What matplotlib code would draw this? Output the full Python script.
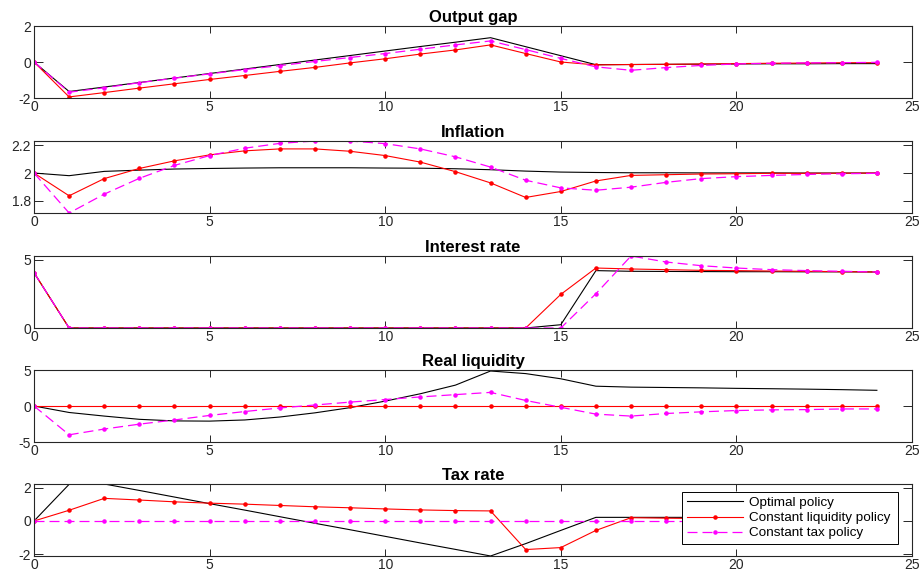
"""Impulse responses under three policy regimes, five stacked panels."""

import matplotlib
matplotlib.use("Agg")
import matplotlib.pyplot as plt

plt.rcParams["font.family"] = ["Liberation Sans", "DejaVu Sans"]

T = list(range(25))

TITLES = ["Output gap", "Inflation", "Interest rate", "Real liquidity", "Tax rate"]
SERIES_NAMES = ["Optimal policy", "Constant liquidity policy", "Constant tax policy"]

gap_opt = [0, -1.64, -1.39, -1.14, -0.89, -0.64, -0.39, -0.14, 0.11, 0.36, 0.61, 0.86,
           1.10, 1.35, 0.85, 0.35, -0.15, -0.14, -0.13, -0.12, -0.11, -0.10, -0.10,
           -0.09, -0.09]
gap_liq = [0, -1.94, -1.70, -1.45, -1.21, -0.97, -0.75, -0.52, -0.30, -0.05, 0.18, 0.44,
           0.67, 0.95, 0.47, 0.00, -0.16, -0.14, -0.13, -0.11, -0.09, -0.07, -0.06,
           -0.04, -0.04]
gap_tax = [0, -1.68, -1.43, -1.15, -0.90, -0.66, -0.42, -0.20, 0.03, 0.25, 0.47, 0.71,
           0.95, 1.17, 0.69, 0.20, -0.27, -0.46, -0.31, -0.19, -0.11, -0.07, -0.05,
           -0.04, -0.02]

infl_opt = [2.0, 1.981, 2.012, 2.021, 2.029, 2.033, 2.036, 2.038, 2.038, 2.038, 2.036,
            2.035, 2.031, 2.024, 2.014, 2.007, 2.004, 2.002, 2.002, 2.001, 2.001, 2.001,
            2.0, 2.0, 2.0]
infl_liq = [2.0, 1.836, 1.960, 2.033, 2.088, 2.131, 2.160, 2.174, 2.174, 2.157, 2.126,
            2.079, 2.010, 1.929, 1.824, 1.867, 1.943, 1.983, 1.988, 1.993, 1.995, 1.998,
            1.998, 1.999, 2.0]
infl_tax = [2.0, 1.712, 1.848, 1.962, 2.055, 2.126, 2.179, 2.214, 2.231, 2.231, 2.212,
            2.174, 2.117, 2.043, 1.948, 1.893, 1.876, 1.898, 1.933, 1.960, 1.974, 1.983,
            1.990, 1.995, 1.998]

rate_opt = [4.05, 0, 0, 0, 0, 0, 0, 0, 0, 0, 0, 0, 0, 0, 0, 0.24, 4.20, 4.15, 4.14,
            4.13, 4.12, 4.12, 4.11, 4.11, 4.10]
rate_liq = [4.05, 0, 0, 0, 0, 0, 0, 0, 0, 0, 0, 0, 0, 0, 0, 2.46, 4.39, 4.32, 4.27,
            4.22, 4.20, 4.17, 4.15, 4.12, 4.10]
rate_tax = [4.05, 0, 0, 0, 0, 0, 0, 0, 0, 0, 0, 0, 0, 0, 0, 0, 2.51, 5.27, 4.83,
            4.56, 4.39, 4.27, 4.20, 4.15, 4.10]

liq_opt = [0, -0.90, -1.40, -1.85, -2.07, -2.10, -1.94, -1.53, -0.95, -0.23, 0.68, 1.70,
           2.90, 4.86, 4.50, 3.78, 2.75, 2.62, 2.57, 2.52, 2.45, 2.40, 2.34, 2.27, 2.18]
liq_liq = [0] * 25
liq_tax = [0, -4.00, -3.20, -2.52, -1.94, -1.31, -0.77, -0.27, 0.14, 0.54, 0.90, 1.26,
           1.58, 1.89, 0.77, -0.18, -1.13, -1.40, -1.04, -0.81, -0.63, -0.54, -0.50,
           -0.41, -0.41]

tax_opt = [0, 2.22, 2.24, 1.85, 1.45, 1.05, 0.66, 0.26, -0.14, -0.53, -0.93, -1.33,
           -1.72, -2.12, -1.37, -0.57, 0.22, 0.22, 0.22, 0.22, 0.22, 0.22, 0.22, 0.22,
           0.22]
tax_liq = [0, 0.65, 1.37, 1.27, 1.16, 1.08, 1.02, 0.94, 0.86, 0.80, 0.73, 0.67, 0.63,
           0.61, -1.73, -1.61, -0.57, 0.20, 0.17, 0.15, 0.14, 0.13, 0.12, 0.11, 0.10]
tax_tax = [0] * 25

PANELS = [
    (gap_opt, gap_liq, gap_tax),
    (infl_opt, infl_liq, infl_tax),
    (rate_opt, rate_liq, rate_tax),
    (liq_opt, liq_liq, liq_tax),
    (tax_opt, tax_liq, tax_tax),
]
YTICKS = [[-2, 0, 2], [1.8, 2.0, 2.2], [0, 5], [-5, 0, 5], [-2, 0, 2]]
# None = tight on the data
YLIMS = [(-2, 2), None, None, (-5, 5), None]

AX_COLOR = "#262626"
W, H = 921, 573
LEFT, RIGHT = 34, 912
TOPS = [26, 141, 256, 370, 484]
AX_H = 72


def _styled(ax, yticks, ylim, data):
    ax.set_xlim(0, 25)
    ax.set_xticks([0, 5, 10, 15, 20, 25])
    ax.set_yticks(yticks)
    ax.set_yticklabels([f"{v:g}" for v in yticks])
    if ylim is None:
        vals = [v for s in data for v in s]
        ylim = (min(vals), max(vals))
    ax.set_ylim(*ylim)
    ax.tick_params(axis="both", direction="in", top=True, right=True,
                   labelsize=10, colors=AX_COLOR, width=0.7)
    ax.tick_params(axis="x", length=4.8, pad=1.5)
    ax.tick_params(axis="y", length=6.5, pad=2)
    for sp in ax.spines.values():
        sp.set_color(AX_COLOR)
        sp.set_linewidth(0.8)


def main():
    fig = plt.figure(figsize=(W / 100, H / 100), dpi=100)
    handles = None
    for k, (title, data) in enumerate(zip(TITLES, PANELS)):
        top = TOPS[k]
        ax = fig.add_axes([LEFT / W, 1 - (top + AX_H) / H, (RIGHT - LEFT) / W, AX_H / H])
        opt, liq, tax = data
        h1, = ax.plot(T, opt, color="black", lw=0.8)
        h2, = ax.plot(T, liq, color="#ff0000", lw=0.8, marker=".", ms=4.5)
        h3, = ax.plot(T, tax, color="#ff00ff", lw=0.9, ls=(0, (8, 4)), marker=".", ms=4.5)
        handles = (h1, h2, h3)
        _styled(ax, YTICKS[k], YLIMS[k], data)
        ax.set_title(title, fontsize=12, fontweight="bold", pad=3)

    # legend box spans a fixed width inside the last panel
    leg = ax.legend(handles, SERIES_NAMES, loc="upper left", mode="expand",
                    bbox_to_anchor=(682 / W, 1 - 543 / H, 216 / W, 51 / H),
                    bbox_transform=fig.transFigure, borderaxespad=0,
                    fontsize=9.7, handlelength=4.2, handletextpad=0.45,
                    labelspacing=0.2, borderpad=0.35, fancybox=False, framealpha=1)
    leg.get_frame().set_edgecolor("black")
    leg.get_frame().set_linewidth(0.7)

    fig.savefig("out.png", dpi=100)
    plt.close(fig)


if __name__ == "__main__":
    main()
